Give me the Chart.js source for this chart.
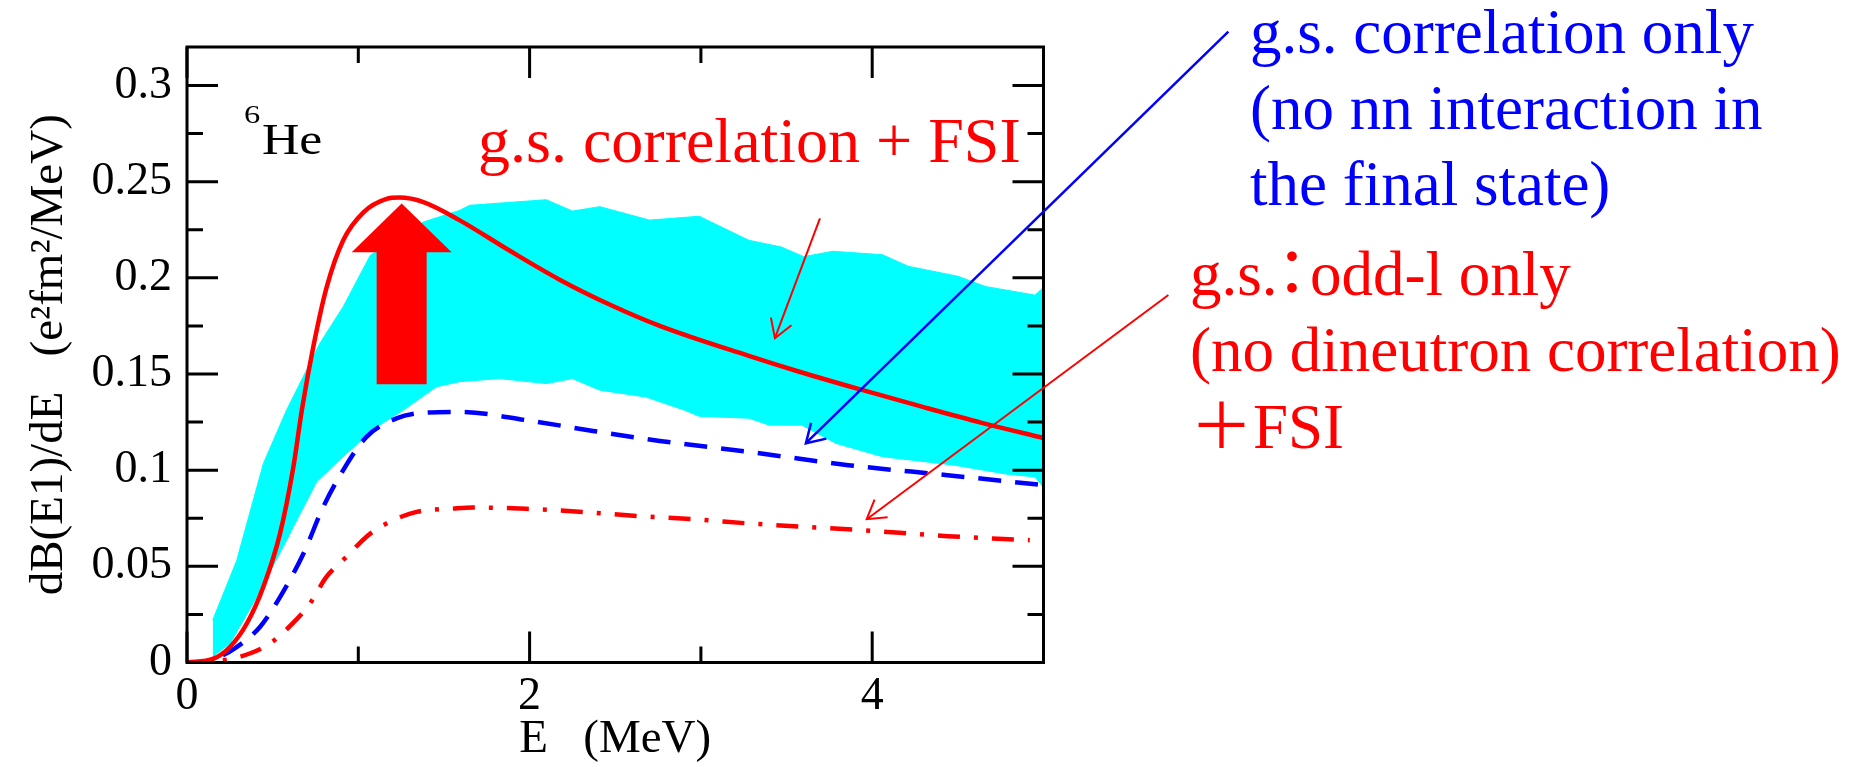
<!DOCTYPE html>
<html>
<head>
<meta charset="utf-8">
<script src="https://cdn.jsdelivr.net/npm/chart.js@4/dist/chart.umd.min.js"></script>
<style>
  html, body { margin: 0; padding: 0; background: #ffffff; overflow: hidden; }
  canvas { display: block; }
</style>
</head>
<body>
<canvas id="c" width="1853" height="767"></canvas>
<script>
// ---------------- data ----------------
// g.s. correlation + FSI (solid red)
const fsiE = [0, 0.155, 0.252, 0.35, 0.446, 0.543, 0.621, 0.67, 0.737, 0.815, 0.912, 1.03, 1.165, 1.24, 1.38, 1.59, 1.88, 2.17, 2.47, 2.76, 3.28, 3.57, 3.94, 4.29, 4.64, 5.0];
const fsiY = [0, 0.002, 0.0082, 0.0204, 0.0394, 0.067, 0.1017, 0.131, 0.164, 0.195, 0.2195, 0.234, 0.241, 0.2417, 0.2394, 0.23, 0.2143, 0.1993, 0.186, 0.175, 0.1594, 0.1513, 0.1417, 0.133, 0.1246, 0.1167];

// g.s. correlation only, no nn interaction in final state (blue dashed)
const noFsiE = [0, 0.04, 0.155, 0.29, 0.427, 0.543, 0.68, 0.796, 0.912, 1.048, 1.223, 1.378, 1.59, 1.98, 2.37, 2.76, 3.28, 3.86, 4.44, 5.0];
const noFsiY = [0, 0, 0.0017, 0.008, 0.0186, 0.034, 0.0567, 0.081, 0.1, 0.1173, 0.1269, 0.1298, 0.1303, 0.126, 0.1204, 0.1152, 0.1095, 0.1026, 0.0974, 0.0922];

// g.s.: odd-l only + FSI (red dash-dot)
const oddLE = [0, 0.06, 0.25, 0.37, 0.485, 0.621, 0.718, 0.815, 0.932, 1.048, 1.165, 1.34, 1.553, 1.67, 1.98, 2.31, 2.64, 2.97, 3.28, 3.94, 4.44, 4.92];
const oddLY = [0, 0, 0.0017, 0.0048, 0.01, 0.0207, 0.0307, 0.0446, 0.055, 0.0654, 0.0723, 0.0783, 0.08, 0.0806, 0.0799, 0.0783, 0.0761, 0.0744, 0.0723, 0.0688, 0.0657, 0.0636];

// experimental band (cyan): upper and lower edges
const bandUpperE = [0.15, 0.29, 0.446, 0.58, 0.776, 0.912, 1.07, 1.38, 1.59, 1.65, 2.097, 2.25, 2.41, 2.70, 2.99, 3.28, 3.47, 3.60, 3.77, 4.06, 4.21, 4.50, 4.66, 4.95, 5.0];
const bandUpperY = [0.022, 0.053, 0.1035, 0.131, 0.166, 0.185, 0.2117, 0.229, 0.235, 0.2377, 0.2406, 0.2347, 0.237, 0.230, 0.232, 0.2195, 0.216, 0.211, 0.2138, 0.212, 0.206, 0.2008, 0.1955, 0.191, 0.195];
const bandLowerE = [0.15, 0.252, 0.388, 0.543, 0.757, 0.932, 1.107, 1.26, 1.456, 1.59, 1.825, 2.097, 2.25, 2.41, 2.68, 2.91, 2.99, 3.28, 3.40, 3.59, 3.79, 4.06, 4.25, 4.48, 4.78, 4.95, 5.0];
const bandLowerY = [0.003, 0.01, 0.031, 0.057, 0.094, 0.1087, 0.1225, 0.131, 0.1433, 0.146, 0.1476, 0.145, 0.1476, 0.1416, 0.138, 0.131, 0.128, 0.127, 0.1234, 0.1234, 0.1139, 0.107, 0.105, 0.1026, 0.098, 0.0965, 0.091];

// ticks
const xTickValues = [0, 2, 4];
const xTickLabels = ['0', '2', '4'];
const xMinorTicks = [1, 3, 5];
const yTickValues = [0, 0.05, 0.1, 0.15, 0.2, 0.25, 0.3];
const yTickLabels = ['0', '0.05', '0.1', '0.15', '0.2', '0.25', '0.3'];
const yMinorTicks = [0.025, 0.075, 0.125, 0.175, 0.225, 0.275];

// ---------------- helpers ----------------
const zip = (xs, ys) => xs.map((v, i) => ({ x: v, y: ys[i] }));
const SERIF = '"Liberation Serif", "Times New Roman", "Noto Sans CJK JP", serif';

// annotation geometry (in data coordinates, converted through the scales)
const bigArrowShape = [
  [1.253, 0.2387], [1.545, 0.2133], [1.399, 0.2133], [1.399, 0.1446],
  [1.107, 0.1446], [1.107, 0.2133], [0.9615, 0.2133]
];
const pointers = [
  { from: [3.695, 0.2309], to: [3.432, 0.1686], color: '#ff0000', width: 2 },
  { from: [6.079, 0.328],  to: [3.613, 0.114],  color: '#0000ff', width: 2.5 },
  { from: [5.729, 0.1911], to: [3.968, 0.0745], color: '#ff0000', width: 2 }
];

function drawText(ctx, str, x, y, size, color, sx, align) {
  ctx.save();
  ctx.font = size + 'px ' + SERIF;
  ctx.fillStyle = color;
  ctx.textBaseline = 'alphabetic';
  ctx.textAlign = align || 'left';
  ctx.translate(x, y);
  ctx.scale(sx || 1, 1);
  ctx.fillText(str, 0, 0);
  ctx.restore();
}

function drawPointer(ctx, x0, y0, x1, y1, color, w) {
  ctx.save();
  ctx.strokeStyle = color;
  ctx.lineWidth = w;
  ctx.lineCap = 'butt';
  ctx.lineJoin = 'miter';
  ctx.beginPath(); ctx.moveTo(x0, y0); ctx.lineTo(x1, y1); ctx.stroke();
  const t = Math.atan2(y0 - y1, x0 - x1);
  const len = 21, ang = 0.55;
  ctx.beginPath();
  ctx.moveTo(x1 + len * Math.cos(t + ang), y1 + len * Math.sin(t + ang));
  ctx.lineTo(x1, y1);
  ctx.lineTo(x1 + len * Math.cos(t - ang), y1 + len * Math.sin(t - ang));
  ctx.stroke();
  ctx.restore();
}

const annotPlugin = {
  id: 'annot',
  beforeDraw(chart) {
    const ctx = chart.ctx;
    ctx.save();
    ctx.fillStyle = '#ffffff';
    ctx.fillRect(0, 0, chart.width, chart.height);
    ctx.restore();
  },
  afterDatasetsDraw(chart) {
    const { ctx, scales: { x, y } } = chart;
    ctx.save();
    ctx.fillStyle = '#ff0000';
    ctx.beginPath();
    bigArrowShape.forEach((p, i) => {
      const px = x.getPixelForValue(p[0]), py = y.getPixelForValue(p[1]);
      if (i === 0) ctx.moveTo(px, py); else ctx.lineTo(px, py);
    });
    ctx.closePath();
    ctx.fill();
    ctx.restore();
  },
  afterDraw(chart) {
    const { ctx, chartArea: a, scales: { x, y } } = chart;
    // frame
    ctx.save();
    ctx.strokeStyle = '#000000';
    ctx.lineWidth = 3;
    ctx.strokeRect(a.left, a.top, a.right - a.left, a.bottom - a.top);
    // ticks (inward, mirrored on all four sides)
    const MAJ = 31, MIN = 16;
    ctx.beginPath();
    const hTick = (v, L) => {
      const py = y.getPixelForValue(v);
      ctx.moveTo(a.left, py); ctx.lineTo(a.left + L, py);
      ctx.moveTo(a.right, py); ctx.lineTo(a.right - L, py);
    };
    const vTick = (v, L) => {
      const px = x.getPixelForValue(v);
      ctx.moveTo(px, a.bottom); ctx.lineTo(px, a.bottom - L);
      ctx.moveTo(px, a.top); ctx.lineTo(px, a.top + L);
    };
    yTickValues.forEach(v => hTick(v, MAJ));
    yMinorTicks.forEach(v => hTick(v, MIN));
    xTickValues.forEach(v => vTick(v, MAJ));
    xMinorTicks.forEach(v => vTick(v, MIN));
    ctx.stroke();
    ctx.restore();

    // pointer arrows
    pointers.forEach(p => {
      drawPointer(ctx,
        x.getPixelForValue(p.from[0]), y.getPixelForValue(p.from[1]),
        x.getPixelForValue(p.to[0]), y.getPixelForValue(p.to[1]),
        p.color, p.width);
    });

    // texts
    drawText(ctx, '6', 244, 123, 26, '#000000', 1.25);
    drawText(ctx, 'He', 262, 154, 45, '#000000', 1.15);
    drawText(ctx, 'g.s. correlation + FSI', 478, 162, 64, '#ff0000');

    drawText(ctx, 'g.s. correlation only', 1250, 53, 63, '#0000ff');
    drawText(ctx, '(no nn interaction in', 1250, 129, 63, '#0000ff');
    drawText(ctx, 'the final state)', 1250, 205, 63, '#0000ff');

    drawText(ctx, 'g.s.', 1190, 295, 63, '#ff0000');
    drawText(ctx, '：', 1292, 295, 63, '#ff0000', 1, 'center');
    drawText(ctx, 'odd-l only', 1310, 295, 63, '#ff0000');
    drawText(ctx, '(no dineutron correlation)', 1190, 371, 63, '#ff0000');
    drawText(ctx, '＋FSI', 1190, 448, 63, '#ff0000');
  }
};

new Chart(document.getElementById('c').getContext('2d'), {
  type: 'line',
  data: {
    datasets: [
      {
        label: 'g.s. correlation + FSI',
        data: zip(fsiE, fsiY),
        borderColor: '#ff0000', borderWidth: 4.5,
        pointRadius: 0, fill: false,
        cubicInterpolationMode: 'monotone',
        order: 1
      },
      {
        label: 'g.s. correlation only',
        data: zip(noFsiE, noFsiY),
        borderColor: '#0000ff', borderWidth: 4.5,
        borderDash: [23, 14],
        pointRadius: 0, fill: false,
        cubicInterpolationMode: 'monotone',
        order: 2
      },
      {
        label: 'g.s.: odd-l only + FSI',
        data: zip(oddLE, oddLY),
        borderColor: '#ff0000', borderWidth: 4.5,
        borderDash: [22, 14, 4, 14],
        pointRadius: 0, fill: false,
        cubicInterpolationMode: 'monotone',
        order: 3
      },
      {
        label: 'band upper',
        data: zip(bandUpperE, bandUpperY),
        borderColor: '#00ffff', borderWidth: 1,
        backgroundColor: '#00ffff',
        pointRadius: 0, tension: 0,
        fill: '+1',
        order: 10
      },
      {
        label: 'band lower',
        data: zip(bandLowerE, bandLowerY),
        borderColor: '#00ffff', borderWidth: 1,
        pointRadius: 0, tension: 0,
        fill: false,
        order: 11
      }
    ]
  },
  options: {
    responsive: false,
    animation: false,
    devicePixelRatio: 1,
    events: [],
    layout: { padding: { left: 0, top: 47, right: 809.5, bottom: 0 } },
    plugins: {
      legend: { display: false },
      tooltip: { enabled: false },
      title: { display: false }
    },
    scales: {
      x: {
        type: 'linear', min: 0, max: 5,
        afterBuildTicks: s => { s.ticks = xTickValues.map(v => ({ value: v })); },
        afterFit: s => { s.height = 104.5; },
        grid: { display: false, drawTicks: false },
        border: { display: false },
        ticks: {
          color: '#000000', padding: 7, maxRotation: 0, autoSkip: false,
          font: { family: SERIF, size: 46, lineHeight: 1.2 },
          callback: v => xTickLabels[xTickValues.indexOf(v)]
        },
        title: {
          display: true, text: 'E   (MeV)', color: '#000000',
          font: { family: SERIF, size: 47, lineHeight: 1.145 },
          padding: { top: 0, bottom: 0 }
        }
      },
      y: {
        type: 'linear', min: 0, max: 0.32,
        afterBuildTicks: s => { s.ticks = yTickValues.map(v => ({ value: v })); },
        afterFit: s => { s.width = 187; },
        grid: { display: false, drawTicks: false },
        border: { display: false },
        ticks: {
          color: '#000000', padding: 15, autoSkip: false,
          font: { family: SERIF, size: 46, lineHeight: 1.2 },
          callback: v => yTickLabels[yTickValues.indexOf(v)]
        },
        title: {
          display: true, text: 'dB(E1)/dE   (e²fm²/MeV)', color: '#000000',
          font: { family: SERIF, size: 47, lineHeight: 1.2 },
          padding: { top: 21, bottom: 0 }
        }
      }
    }
  },
  plugins: [annotPlugin]
});
</script>
</body>
</html>
